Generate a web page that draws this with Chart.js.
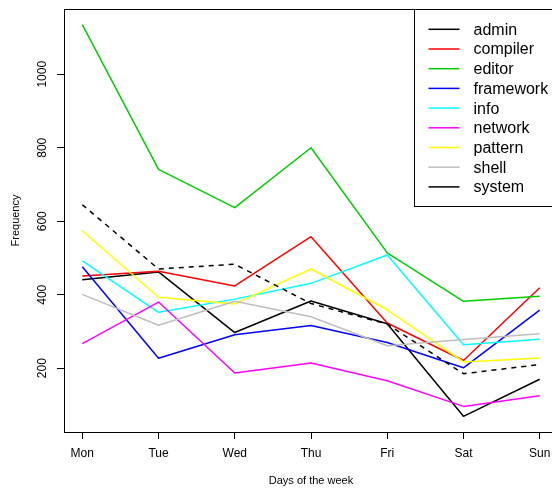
<!DOCTYPE html>
<html>
<head>
<meta charset="utf-8">
<script src="https://cdn.jsdelivr.net/npm/chart.js@4.4.0/dist/chart.umd.min.js"></script>
<style>
    html, body { margin: 0; padding: 0; background: #fff; overflow: hidden; }
    .chart-wrapper { position: relative; width: 558px; height: 489px; }
</style>
</head>
<body>
<div class="chart-wrapper"><canvas id="myLineChart"></canvas></div>
<script>
const days = ['Mon', 'Tue', 'Wed', 'Thu', 'Fri', 'Sat', 'Sun'];
const seriesNames = ['admin', 'compiler', 'editor', 'framework', 'info', 'network', 'pattern', 'shell', 'system'];

const admin     = [441, 462, 297, 383, 321, 69, 170];
const compiler  = [451, 464, 424, 558, 323, 221, 419];
const editor    = [1135, 741, 637, 800, 514, 382, 396];
const framework = [476, 227, 291, 316, 270, 201, 358];
const info      = [492, 352, 388, 431, 508, 264, 279];
const network   = [267, 380, 187, 214, 166, 96, 125];
const pattern   = [574, 393, 375, 470, 359, 217, 228];
const shell     = [401, 317, 382, 340, 261, 278, 294];
const system    = [645, 470, 483, 376, 320, 185, 210];

const yTicks = [200, 400, 600, 800, 1000];

const seriesValues = [admin, compiler, editor, framework, info, network, pattern, shell, system];
const seriesColors = ['#000000', '#FF0000', '#00CD00', '#0000FF', '#00FFFF', '#FF00FF', '#FFFF00', '#BEBEBE', '#000000'];
const seriesDash = [[], [], [], [], [], [], [], [], [5, 5]];

const fontFamily = '"Liberation Sans", Arial, Helvetica, sans-serif';

// R-style axis range: data range widened by 4% on each side
function paddedRange(lo, hi) {
    const d = (hi - lo) * 0.04;
    return [lo - d, hi + d];
}
const allValues = seriesValues.flat();
const [yMin, yMax] = paddedRange(Math.min(...allValues), Math.max(...allValues));
const [xMin, xMax] = paddedRange(1, days.length);

const datasets = seriesNames.map((name, i) => ({
    label: name,
    data: seriesValues[i].map((v, j) => ({ x: j + 1, y: v })),
    borderColor: seriesColors[i],
    backgroundColor: seriesColors[i],
    borderWidth: 1.5,
    borderDash: seriesDash[i],
    borderJoinStyle: 'round',
    pointRadius: 0,
    tension: 0,
    fill: false,
    order: seriesNames.length - i
}));

const boxAndLegend = {
    id: 'boxAndLegend',
    afterDraw(chart) {
        const ctx = chart.ctx;
        const area = chart.chartArea;
        ctx.save();
        ctx.strokeStyle = '#000';
        ctx.lineWidth = 1;
        ctx.beginPath();
        ctx.moveTo(area.left, area.top + 0.5);
        ctx.lineTo(area.right, area.top + 0.5);
        ctx.stroke();

        // legend box in the top right corner
        const boxLeft = Math.round(area.right - 144) + 0.5;
        const boxTop = area.top + 0.5;
        const rowH = 19.7;
        const boxH = 197;
        ctx.fillStyle = '#fff';
        ctx.fillRect(boxLeft, boxTop, area.right - boxLeft + 5, boxH);
        ctx.strokeRect(boxLeft, boxTop, area.right - boxLeft + 5, boxH);

        ctx.font = '16px ' + fontFamily;
        ctx.textBaseline = 'middle';
        ctx.textAlign = 'left';
        seriesNames.forEach((name, i) => {
            const y = area.top + 20.3 + i * rowH;
            ctx.strokeStyle = seriesColors[i];
            ctx.lineWidth = 1.5;
            ctx.setLineDash([]);
            ctx.beginPath();
            ctx.moveTo(boxLeft + 14, y);
            ctx.lineTo(boxLeft + 45, y);
            ctx.stroke();
            ctx.fillStyle = '#000';
            ctx.fillText(name, boxLeft + 59, y + 1);
        });
        ctx.restore();
    }
};

const ctx = document.getElementById('myLineChart').getContext('2d');
new Chart(ctx, {
    type: 'line',
    data: { datasets: datasets },
    options: {
        responsive: true,
        maintainAspectRatio: false,
        animation: false,
        layout: { padding: { top: 9, left: 0, right: 0, bottom: 0 } },
        plugins: {
            legend: { display: false },
            title: { display: false },
            tooltip: { enabled: false }
        },
        scales: {
            x: {
                type: 'linear',
                min: xMin,
                max: xMax,
                afterBuildTicks: scale => {
                    scale.ticks = days.map((d, i) => ({ value: i + 1 }));
                },
                afterFit: scale => { scale.height = 57; },
                ticks: {
                    callback: value => days[value - 1],
                    color: '#000',
                    font: { family: fontFamily, size: 12 },
                    padding: 7,
                    maxRotation: 0,
                    autoSkip: false
                },
                grid: {
                    drawOnChartArea: false,
                    drawTicks: true,
                    tickLength: 7,
                    color: '#000'
                },
                border: { display: true, color: '#000', width: 1 },
                title: {
                    display: true,
                    text: 'Days of the week',
                    color: '#000',
                    font: { family: fontFamily, size: 11 },
                    padding: { top: 0, bottom: 1 }
                }
            },
            y: {
                type: 'linear',
                min: yMin,
                max: yMax,
                afterBuildTicks: scale => {
                    scale.ticks = yTicks.map(v => ({ value: v }));
                },
                afterFit: scale => { scale.width = 64; },
                ticks: {
                    callback: value => String(value),
                    color: '#000',
                    font: { family: fontFamily, size: 12 },
                    minRotation: 90,
                    maxRotation: 90,
                    crossAlign: 'center',
                    padding: 1
                },
                grid: {
                    drawOnChartArea: false,
                    drawTicks: true,
                    tickLength: 7,
                    color: '#000'
                },
                border: { display: true, color: '#000', width: 1 },
                title: {
                    display: true,
                    text: 'Frequency',
                    color: '#000',
                    font: { family: fontFamily, size: 11 },
                    padding: { top: 9, bottom: 0 }
                }
            }
        }
    },
    plugins: [boxAndLegend]
});
</script>
</body>
</html>
